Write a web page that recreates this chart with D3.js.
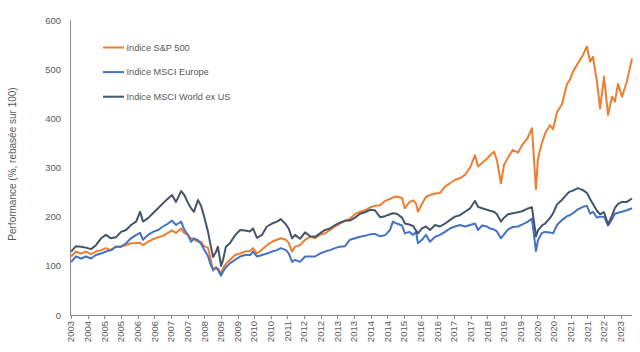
<!DOCTYPE html>
<html>
<head>
<meta charset="utf-8">
<script src="https://cdn.jsdelivr.net/npm/d3@7"></script>
<style>
  body { margin: 0; background: #fff; }
  text { font-family: "Liberation Sans", Arial, sans-serif; fill: #595959; }
</style>
</head>
<body>
<script>
//variabili
var width = 640, height = 352;
var margin = { left: 70, right: 8, top: 20, bottom: 37 };

//dati (anno decimale)
var dates = [
  2003.93, 2004.10, 2004.28, 2004.45, 2004.63, 2004.80, 2004.98, 2005.15, 2005.33, 2005.50,
  2005.68, 2005.86, 2006.03, 2006.21, 2006.35, 2006.45, 2006.63, 2006.80, 2006.98, 2007.15,
  2007.33, 2007.47, 2007.61, 2007.79, 2007.89, 2008.03, 2008.14, 2008.24, 2008.38, 2008.49,
  2008.59, 2008.73, 2008.84, 2008.91, 2009.01, 2009.08, 2009.19, 2009.26, 2009.36, 2009.50,
  2009.68, 2009.86, 2010.03, 2010.21, 2010.31, 2010.45, 2010.63, 2010.80, 2010.98, 2011.15,
  2011.29, 2011.47, 2011.57, 2011.68, 2011.79, 2011.96, 2012.14, 2012.31, 2012.49, 2012.66,
  2012.84, 2013.01, 2013.19, 2013.36, 2013.54, 2013.71, 2013.89, 2014.07, 2014.24, 2014.42,
  2014.59, 2014.77, 2014.94, 2015.12, 2015.22, 2015.36, 2015.54, 2015.64, 2015.79, 2015.93,
  2016.03, 2016.10, 2016.24, 2016.38, 2016.52, 2016.70, 2016.87, 2017.05, 2017.22, 2017.40,
  2017.57, 2017.75, 2017.93, 2018.10, 2018.21, 2018.35, 2018.52, 2018.63, 2018.77, 2018.87,
  2019.01, 2019.12, 2019.26, 2019.43, 2019.61, 2019.75, 2019.93, 2020.10, 2020.24, 2020.31,
  2020.45, 2020.56, 2020.73, 2020.84, 2020.98, 2021.15, 2021.33, 2021.43, 2021.54, 2021.71,
  2021.89, 2022.03, 2022.14, 2022.24, 2022.38, 2022.49, 2022.63, 2022.77, 2022.91, 2023.01,
  2023.12, 2023.26, 2023.43, 2023.61
];

var sp500 = [
  119, 129, 125, 129, 124, 129, 132, 136, 132, 139,
  139, 142, 146, 146, 147, 142, 149, 154, 158, 161,
  167, 172, 167, 176, 167, 163, 156, 154, 149, 149,
  140, 137, 110, 90, 97, 95, 85, 95, 104, 112,
  122, 125, 129, 130, 136, 125, 133, 142, 149, 153,
  156, 153, 146, 129, 139, 142, 153, 159, 156, 163,
  166, 173, 180, 186, 191, 196, 205, 210, 213, 219,
  222, 223, 232, 236, 239, 241, 238, 217, 229, 233,
  227, 210, 226, 240, 244, 247, 248, 261, 268, 275,
  278, 285, 300, 325, 302, 309, 318, 325, 332, 315,
  268, 305, 320, 336, 330, 345, 358, 380, 256, 318,
  350, 369, 386, 378, 413, 428, 470, 478, 495, 512,
  529, 546, 515, 525, 475, 420, 485, 407, 444, 434,
  470, 444, 475, 522
];

var msciEurope = [
  108, 119, 115, 119, 115, 122, 125, 129, 132, 139,
  139, 146, 156, 163, 167, 153, 163, 169, 173, 180,
  186, 192, 183, 190, 175, 162, 149, 156, 152, 145,
  134, 120, 100, 93, 96, 92, 80, 88, 97, 105,
  112, 119, 122, 122, 129, 119, 122, 125, 129, 132,
  136, 132, 125, 108, 112, 108, 119, 119, 119, 125,
  129, 132, 136, 139, 140, 153, 156, 159, 161, 164,
  165, 160, 162, 173, 190, 186, 182, 166, 169, 163,
  169, 146, 153, 163, 149, 159, 163, 169, 176, 180,
  183, 180, 183, 186, 173, 182, 180, 176, 174, 170,
  156, 164, 174, 179, 180, 184, 189, 196, 130, 152,
  167, 169, 168, 166, 183, 193, 201, 203, 207, 215,
  220, 222, 206, 210, 198, 200, 200, 182, 195, 206,
  208, 210, 213, 217
];

var msciWorldExUS = [
  129, 140, 139, 137, 134, 142, 156, 163, 156, 158,
  169, 173, 183, 190, 210, 190, 197, 207, 217, 227,
  237, 244, 230, 252, 245, 228, 217, 210, 234, 222,
  202, 170, 137, 118, 128, 139, 100, 112, 139, 146,
  162, 173, 172, 170, 176, 157, 163, 180, 186, 190,
  195, 184, 175, 156, 163, 155, 168, 160, 159, 166,
  173, 176, 183, 188, 192, 192, 198, 206, 209, 214,
  213, 199, 201, 205, 207, 206, 198, 186, 184, 181,
  172, 166, 176, 180, 173, 183, 180, 186, 193, 200,
  203, 210, 217, 232, 220, 217, 214, 212, 210, 205,
  190, 198, 205, 207, 209, 211, 216, 219, 160, 172,
  182, 186, 197, 207, 225, 234, 246, 251, 253, 258,
  254, 248, 236, 226, 212, 205, 209, 184, 202, 218,
  226, 230, 230, 237
];

//etichette asse x (asse a categorie, come in Excel)
var xTickLabels = [
  "2003", "2004", "2005", "2005", "2006", "2006", "2007", "2007", "2008", "2009",
  "2009", "2010", "2010", "2011", "2012", "2012", "2013", "2013", "2014", "2014",
  "2015", "2016", "2016", "2017", "2017", "2018", "2019", "2019", "2020", "2020",
  "2021", "2021", "2022", "2023"
];
var yTicks = [0, 100, 200, 300, 400, 500, 600];

var series = [
  { name: "Indice S&P 500", values: sp500, color: "#ED7D31" },
  { name: "Indice MSCI Europe", values: msciEurope, color: "#4472C4" },
  { name: "Indice MSCI World ex US", values: msciWorldExUS, color: "#44546A" }
];

//spazio di disegno
var svg = d3.select("body")
  .append("svg")
  .attr("width", width)
  .attr("height", height);

//scale
var xScale = d3.scaleLinear()
  .domain([2003.89, 2023.61])
  .range([margin.left, width - margin.right]);

var yScale = d3.scaleLinear()
  .domain([0, 600])
  .range([height - margin.bottom, margin.top]);

var tickScale = d3.scaleLinear()
  .domain([0, xTickLabels.length - 1])
  .range([71, 620.5]);

//asse y
var yAxis = d3.axisLeft(yScale)
  .tickValues(yTicks)
  .tickSize(0)
  .tickPadding(9);

var gy = svg.append("g")
  .attr("transform", "translate(" + margin.left + ",0)")
  .call(yAxis);
gy.select(".domain").attr("stroke", "#898989");
gy.selectAll("text")
  .style("font-size", "9.5px")
  .attr("fill", "#595959");

//asse x
var gx = svg.append("g");
gx.append("line")
  .attr("x1", margin.left)
  .attr("x2", width - margin.right)
  .attr("y1", yScale(0) + 0.5)
  .attr("y2", yScale(0) + 0.5)
  .attr("stroke", "#898989");

gx.selectAll(".tick")
  .data(xTickLabels)
  .enter().append("line")
  .attr("x1", function (d, i) { return Math.round(tickScale(i)) + 0.5; })
  .attr("x2", function (d, i) { return Math.round(tickScale(i)) + 0.5; })
  .attr("y1", yScale(0))
  .attr("y2", yScale(0) + 4)
  .attr("stroke", "#898989");

gx.selectAll(".lab")
  .data(xTickLabels)
  .enter().append("text")
  .attr("transform", function (d, i) { return "translate(" + tickScale(i) + "," + (yScale(0) + 6) + ") rotate(-90)"; })
  .attr("text-anchor", "end")
  .attr("dy", "0.35em")
  .style("font-size", "9.5px")
  .text(function (d) { return d; });

//linee
var line = d3.line()
  .x(function (d, i) { return xScale(dates[i]); })
  .y(function (d) { return yScale(d); });

svg.append("g")
  .selectAll("path")
  .data(series)
  .enter().append("path")
  .attr("d", function (s) { return line(s.values); })
  .attr("fill", "none")
  .attr("stroke", function (s) { return s.color; })
  .attr("stroke-width", 2)
  .attr("stroke-linejoin", "round");

//legenda
var legend = svg.append("g")
  .selectAll("g")
  .data(series)
  .enter().append("g")
  .attr("transform", function (d, i) { return "translate(103," + (47.5 + i * 24.6) + ")"; });

legend.append("line")
  .attr("x1", 0)
  .attr("x2", 21)
  .attr("stroke", function (d) { return d.color; })
  .attr("stroke-width", 2);

legend.append("text")
  .attr("x", 23.5)
  .attr("dy", "0.35em")
  .style("font-size", "9.2px")
  .attr("fill", "#404040")
  .text(function (d) { return d.name; });

//titolo asse y
svg.append("text")
  .attr("transform", "translate(12," + 164 + ") rotate(-90)")
  .attr("text-anchor", "middle")
  .attr("dy", "0.35em")
  .style("font-size", "10px")
  .attr("fill", "#404040")
  .text("Performance (%, rebasée sur 100)");
</script>
</body>
</html>
